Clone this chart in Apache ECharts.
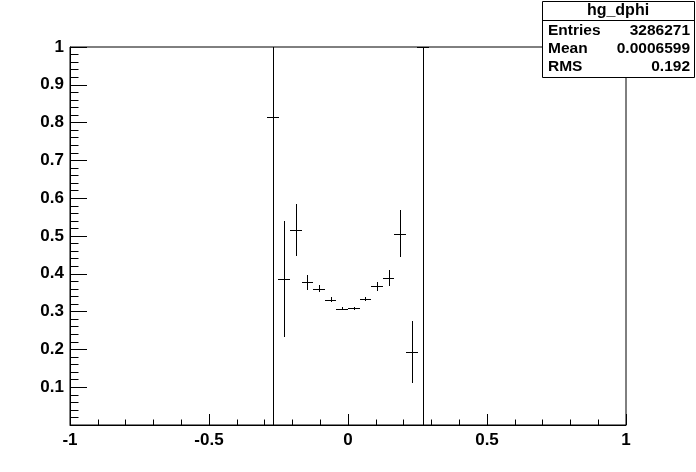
<!DOCTYPE html>
<html>
<head>
<meta charset="utf-8">
<script src="https://cdn.jsdelivr.net/npm/echarts@6/dist/echarts.min.js"></script>
<style>
html,body{margin:0;padding:0;background:#fff;}
#chart{width:696px;height:472px;}
</style>
</head>
<body>
<div id="chart"></div>
<script>
// Histogram hg_dphi: 48 bins on [-1, 1]; only non-empty bins listed
const binCenters = [-0.2708, -0.2292, -0.1875, -0.1458, -0.1042, -0.0625, -0.0208, 0.0208, 0.0625, 0.1042, 0.1458, 0.1875, 0.2292, 0.2708];
const binValues  = [0.815, 0.387, 0.516, 0.378, 0.361, 0.332, 0.307, 0.309, 0.334, 0.367, 0.390, 0.506, 0.192, 1.0];
const binErrors  = [0.9, 0.153, 0.068, 0.020, 0.010, 0.006, 0.004, 0.004, 0.005, 0.012, 0.021, 0.062, 0.082, 1.0];
const binHalfWidth = 1 / 48;

const xTickLabels = ['-1', '-0.5', '0', '0.5', '1'];
const yTickLabels = ['0.1', '0.2', '0.3', '0.4', '0.5', '0.6', '0.7', '0.8', '0.9', '1'];

const statsTitle = 'hg_dphi';
const statsNames = ['Entries', 'Mean', 'RMS'];
const statsValues = ['3286271', '0.0006599', '0.192'];

const FONT = '"Liberation Sans", Arial, Helvetica, sans-serif';

const data = binCenters.map((c, i) => [c, binValues[i], binErrors[i]]);

const chart = echarts.init(document.getElementById('chart'), null, {renderer: 'canvas'});

function px(v) { return Math.round(v) + 0.5; }

const statsGraphics = [];
const bx = 542, by = 1, bw = 152, bh = 76;
statsGraphics.push({type: 'rect', shape: {x: bx + 0.5, y: by + 0.5, width: bw, height: bh},
  style: {fill: '#fff', stroke: '#000', lineWidth: 1}, z: 100});
statsGraphics.push({type: 'line', shape: {x1: bx, y1: 20.5, x2: bx + bw, y2: 20.5},
  style: {stroke: '#000', lineWidth: 1}, z: 101});
statsGraphics.push({type: 'text', x: bx + bw / 2, y: 11, z: 101,
  style: {text: statsTitle, textAlign: 'center', textVerticalAlign: 'middle',
    font: 'bold 16px ' + FONT, fill: '#000'}});
statsNames.forEach((n, i) => {
  const yy = 31 + i * 18;
  statsGraphics.push({type: 'text', x: bx + 6, y: yy, z: 101,
    style: {text: n, textAlign: 'left', textVerticalAlign: 'middle', font: 'bold 15.5px ' + FONT, fill: '#000'}});
  statsGraphics.push({type: 'text', x: bx + bw - 4, y: yy, z: 101,
    style: {text: statsValues[i], textAlign: 'right', textVerticalAlign: 'middle', font: 'bold 15.5px ' + FONT, fill: '#000'}});
});

const option = {
  animation: false,
  backgroundColor: '#fff',
  grid: {left: 70, right: 70, top: 47, bottom: 47, show: true, borderColor: '#000', borderWidth: 1, backgroundColor: 'transparent'},
  xAxis: {
    type: 'value', min: -1, max: 1, interval: 0.5,
    axisLine: {show: true, onZero: false, lineStyle: {color: '#000', width: 1}},
    axisTick: {show: true, inside: true, length: 11, lineStyle: {color: '#000'}},
    minorTick: {show: true, splitNumber: 5, length: 5.5, lineStyle: {color: '#000'}},
    splitLine: {show: false},
    axisLabel: {color: '#000', fontFamily: FONT, fontWeight: 'bold', fontSize: 17, margin: 7,
      formatter: function (v) { const s = String(Math.round(v * 10) / 10); return xTickLabels.indexOf(s) >= 0 ? s : ''; }}
  },
  yAxis: {
    type: 'value', min: 0, max: 1, interval: 0.1,
    axisLine: {show: true, onZero: false, lineStyle: {color: '#000', width: 1}},
    axisTick: {show: true, inside: true, length: 17, lineStyle: {color: '#000'}},
    minorTick: {show: true, splitNumber: 5, length: 8.5, lineStyle: {color: '#000'}},
    splitLine: {show: false},
    axisLabel: {color: '#000', fontFamily: FONT, fontWeight: 'bold', fontSize: 17, margin: 6,
      formatter: function (v) { const s = String(Math.round(v * 10) / 10); return yTickLabels.indexOf(s) >= 0 ? s : ''; }}
  },
  series: [{
    type: 'custom',
    data: data,
    renderItem: function (params, api) {
      const x = api.value(0), y = api.value(1), e = api.value(2);
      const cs = params.coordSys;
      const pl = api.coord([x - binHalfWidth, y]);
      const pr = api.coord([x + binHalfWidth, y]);
      const pt = api.coord([x, y + e]);
      const pb = api.coord([x, y - e]);
      const top = Math.max(pt[1], cs.y);
      const bot = Math.min(pb[1], cs.y + cs.height);
      const yy = px(Math.max(cs.y, Math.min(pl[1], cs.y + cs.height)));
      const xx = px(pt[0]);
      return {
        type: 'group',
        children: [
          {type: 'line', shape: {x1: Math.round(pl[0]), y1: yy, x2: Math.round(pr[0]), y2: yy},
            style: {stroke: '#000', lineWidth: 1}},
          {type: 'line', shape: {x1: xx, y1: Math.round(top), x2: xx, y2: Math.round(bot)},
            style: {stroke: '#000', lineWidth: 1}}
        ]
      };
    }
  }],
  graphic: statsGraphics
};
chart.setOption(option);
</script>
</body>
</html>
